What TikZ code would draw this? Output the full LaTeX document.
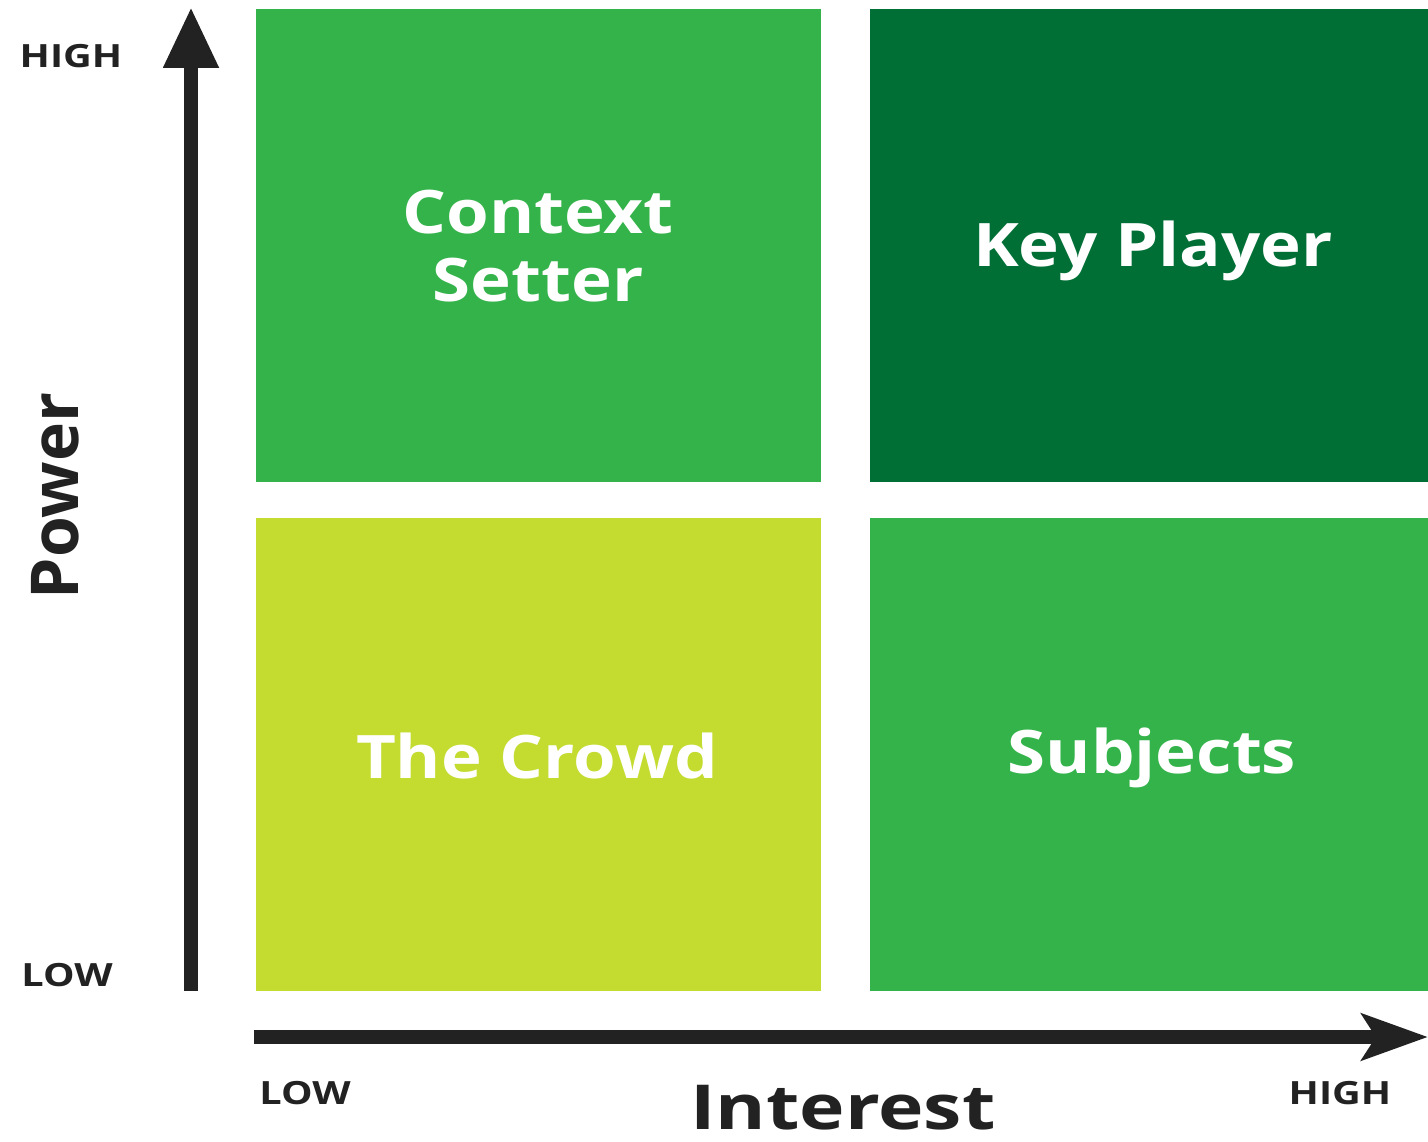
\documentclass[tikz,border=0pt]{standalone}
\usepackage{fontspec}
\setmainfont{Open Sans}
\newfontfamily\wideA[FakeStretch=1.15]{Open Sans}
\newfontfamily\wideB[FakeStretch=1.24]{Open Sans}
\usetikzlibrary{arrows.meta}
\definecolor{midgreen}{HTML}{33B34A}
\definecolor{darkgreen}{HTML}{006F36}
\definecolor{limegreen}{HTML}{C4DB2F}
\definecolor{ink}{HTML}{222222}
\tikzset{
  quad/.style={minimum width=565pt, minimum height=473pt, inner sep=0pt, outer sep=0pt, anchor=north west},
  qtext/.style={text=white, align=center, inner sep=0pt, font=\wideA\fontsize{60}{68}\selectfont\bfseries},
  tick/.style={text=ink, font=\wideB\fontsize{32}{36}\selectfont\bfseries, inner sep=0pt},
  axis/.style={draw=ink, line width=14pt}
}
\begin{document}
\begin{tikzpicture}[x=1pt,y=-1pt]
\useasboundingbox (0,0) rectangle (1428,1142);
\fill[white] (0,0) rectangle (1428,1142);
\node[quad, fill=midgreen] (cs) at (256,9) {};
\node[quad, fill=darkgreen, minimum width=558pt] (kp) at (870,9) {};
\node[quad, fill=limegreen] (tc) at (256,518) {};
\node[quad, fill=midgreen, minimum width=558pt] (sb) at (870,518) {};
\node[qtext] (cst) at (538,246) {Context\\Setter};
\node[qtext] (kpt) at (1153,251) {Key Player};
\node[qtext] (tct) at (537,756) {The Crowd};
\node[qtext] (sbt) at (1152,758) {Subjects};
\coordinate (vs) at (191,991);
\coordinate (ve) at (191,7);
\coordinate (hs) at (254,1037);
\coordinate (he) at (1428,1037);
\draw[axis, -{Triangle[length=61pt,width=52pt]}] (vs) -- (ve);
\draw[axis, -{Stealth[length=66pt,width=46pt,inset=14pt]}] (hs) -- (he);
\node[tick] (vh) at (71,56) {HIGH};
\node[tick] (vl) at (67,975) {LOW};
\node[tick] (hl) at (305,1093) {LOW};
\node[tick] (hh) at (1340,1093) {HIGH};
\node[text=ink, font=\wideB\fontsize{62}{70}\selectfont\bfseries, inner sep=0pt] (int) at (843,1108) {Interest};
\node[text=ink, font=\fontsize{66}{70}\selectfont\bfseries, inner sep=0pt, rotate=90] (pow) at (55,496) {Power};
\end{tikzpicture}
\end{document}
